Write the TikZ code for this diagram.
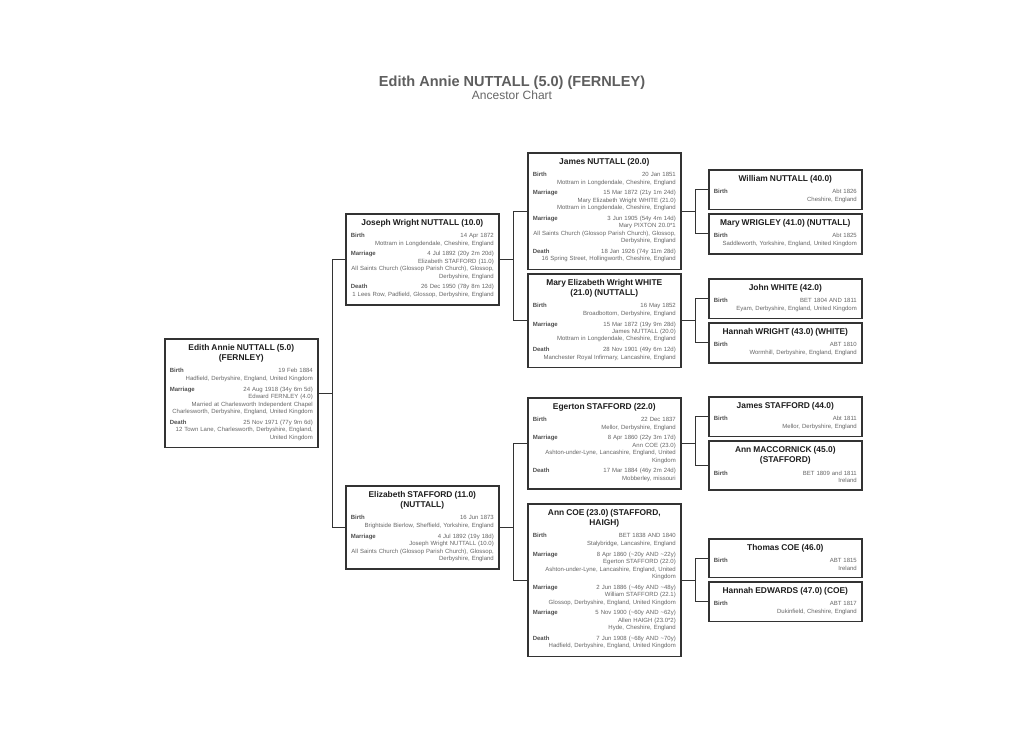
\documentclass[tikz,border=0pt]{standalone}
\usepackage{fontspec}
\setmainfont{Liberation Sans}
\usetikzlibrary{positioning}

\definecolor{boxline}{HTML}{333333}
\definecolor{namecol}{HTML}{1E1E1E}
\definecolor{lblcol}{HTML}{505050}
\definecolor{valcol}{HTML}{666666}
\definecolor{headcol}{HTML}{5E5E5E}

\newcommand{\who}[1]{{\centering\color{namecol}\fontsize{6.3}{7.75}\selectfont\bfseries #1\par}\vspace{1.3pt}}
\newcommand{\evt}[2]{\par\vspace{2.4pt}\hbox to\linewidth{{\color{lblcol}\bfseries #1}\hfill #2}}
\newcommand{\cont}[1]{\hbox to\linewidth{\hfill #1}}

\tikzset{
  person/.style={draw=boxline, line width=1.2pt, fill=white, text=valcol,
    text width=107.25pt, inner xsep=3.75pt, inner ysep=4pt,
    font=\fontsize{4.5}{5.6}\selectfont, anchor=north west,
    execute at end node={\par\kern1.5pt}},
  link/.style={draw=boxline, line width=0.75pt},
  fork/.style={to path={-- ++(14,0) |- (\tikztotarget)}},
}

\begin{document}
\begin{tikzpicture}[x=0.75pt,y=-0.75pt]
  \fill[white] (0,0) rectangle (1024,731);
  \useasboundingbox (0,0) rectangle (1024,731);
  \node [font=\fontsize{10.9}{13}\selectfont\bfseries, text=headcol, anchor=base] (chart) at (512,86.5) {Edith Annie NUTTALL (5.0) (FERNLEY)};
  \node [font=\fontsize{9}{11}\selectfont, text=valcol, anchor=base] (sub) at (512,100) {Ancestor Chart};

  \node [person] (p_5) at (164,338) {\who{Edith Annie NUTTALL (5.0)\\(FERNLEY)}
    \evt{Birth}{19 Feb 1884}\cont{Hadfield, Derbyshire, England, United Kingdom}
    \evt{Marriage}{24 Aug 1918 (34y 6m 5d)}\cont{Edward FERNLEY (4.0)}\cont{Married at Charlesworth Independent Chapel}\cont{Charlesworth, Derbyshire, England, United Kingdom}
    \evt{Death}{25 Nov 1971 (77y 9m 6d)}\cont{12 Town Lane, Charlesworth, Derbyshire, England,}\cont{United Kingdom}};

  \node [person] (p_10) at (345,213) {\who{Joseph Wright NUTTALL (10.0)}
    \evt{Birth}{14 Apr 1872}\cont{Mottram in Longdendale, Cheshire, England}
    \evt{Marriage}{4 Jul 1892 (20y 2m 20d)}\cont{Elizabeth STAFFORD (11.0)}\cont{All Saints Church (Glossop Parish Church), Glossop,}\cont{Derbyshire, England}
    \evt{Death}{26 Dec 1950 (78y 8m 12d)}\cont{1 Lees Row, Padfield, Glossop, Derbyshire, England}};
  \node [person] (p_11) at (345,485) {\who{Elizabeth STAFFORD (11.0)\\(NUTTALL)}
    \evt{Birth}{16 Jun 1873}\cont{Brightside Bierlow, Sheffield, Yorkshire, England}
    \evt{Marriage}{4 Jul 1892 (19y 18d)}\cont{Joseph Wright NUTTALL (10.0)}\cont{All Saints Church (Glossop Parish Church), Glossop,}\cont{Derbyshire, England}};

  \node [person] (p_20) at (527,152) {\who{James NUTTALL (20.0)}
    \evt{Birth}{20 Jan 1851}\cont{Mottram in Longdendale, Cheshire, England}
    \evt{Marriage}{15 Mar 1872 (21y 1m 24d)}\cont{Mary Elizabeth Wright WHITE (21.0)}\cont{Mottram in Longdendale, Cheshire, England}
    \evt{Marriage}{3 Jun 1905 (54y 4m 14d)}\cont{Mary PIXTON 20.0*1}\cont{All Saints Church (Glossop Parish Church), Glossop,}\cont{Derbyshire, England}
    \evt{Death}{18 Jan 1926 (74y 11m 28d)}\cont{16 Spring Street, Hollingworth, Cheshire, England}};
  \node [person, below=2pt of p_20] (p_21) {\who{Mary Elizabeth Wright WHITE\\(21.0) (NUTTALL)}
    \evt{Birth}{16 May 1852}\cont{Broadbottom, Derbyshire, England}
    \evt{Marriage}{15 Mar 1872 (19y 9m 28d)}\cont{James NUTTALL (20.0)}\cont{Mottram in Longdendale, Cheshire, England}
    \evt{Death}{28 Nov 1901 (49y 6m 12d)}\cont{Manchester Royal Infirmary, Lancashire, England}};
  \node [person] (p_22) at (527,397) {\who{Egerton STAFFORD (22.0)}
    \evt{Birth}{22 Dec 1837}\cont{Mellor, Derbyshire, England}
    \evt{Marriage}{8 Apr 1860 (22y 3m 17d)}\cont{Ann COE (23.0)}\cont{Ashton-under-Lyne, Lancashire, England, United}\cont{Kingdom}
    \evt{Death}{17 Mar 1884 (46y 2m 24d)}\cont{Mobberley, missouri}};
  \node [person] (p_23) at (527,503) {\who{Ann COE (23.0) (STAFFORD,\\HAIGH)}
    \evt{Birth}{BET 1838 AND 1840}\cont{Stalybridge, Lancashire, England}
    \evt{Marriage}{8 Apr 1860 (\textasciitilde20y AND \textasciitilde22y)}\cont{Egerton STAFFORD (22.0)}\cont{Ashton-under-Lyne, Lancashire, England, United}\cont{Kingdom}
    \evt{Marriage}{2 Jun 1886 (\textasciitilde46y AND \textasciitilde48y)}\cont{William STAFFORD (22.1)}\cont{Glossop, Derbyshire, England, United Kingdom}
    \evt{Marriage}{5 Nov 1900 (\textasciitilde60y AND \textasciitilde62y)}\cont{Allen HAIGH (23.0*2)}\cont{Hyde, Cheshire, England}
    \evt{Death}{7 Jun 1908 (\textasciitilde68y AND \textasciitilde70y)}\cont{Hadfield, Derbyshire, England, United Kingdom}};

  \node [person] (p_40) at (708,169) {\who{William NUTTALL (40.0)}
    \evt{Birth}{Abt 1826}\cont{Cheshire, England}};
  \node [person, below=2pt of p_40] (p_41) {\who{Mary WRIGLEY (41.0) (NUTTALL)}
    \evt{Birth}{Abt 1825}\cont{Saddleworth, Yorkshire, England, United Kingdom}};
  \node [person] (p_42) at (708,278) {\who{John WHITE (42.0)}
    \evt{Birth}{BET 1804 AND 1811}\cont{Eyam, Derbyshire, England, United Kingdom}};
  \node [person, below=2pt of p_42] (p_43) {\who{Hannah WRIGHT (43.0) (WHITE)}
    \evt{Birth}{ABT 1810}\cont{Wormhill, Derbyshire, England, England}};
  \node [person] (p_44) at (708,396) {\who{James STAFFORD (44.0)}
    \evt{Birth}{Abt 1811}\cont{Mellor, Derbyshire, England}};
  \node [person, below=2pt of p_44] (p_45) {\who{Ann MACCORNICK (45.0)\\(STAFFORD)}
    \evt{Birth}{BET 1809 and 1811}\cont{Ireland}};
  \node [person] (p_46) at (708,538) {\who{Thomas COE (46.0)}
    \evt{Birth}{ABT 1815}\cont{Ireland}};
  \node [person, below=2pt of p_46] (p_47) {\who{Hannah EDWARDS (47.0) (COE)}
    \evt{Birth}{ABT 1817}\cont{Dukinfield, Cheshire, England}};

  \path[link]
    (p_5.east) edge [fork] (p_10.west)
    (p_5.east) edge [fork] (p_11.west)
    (p_10.east) edge [fork] (p_20.west)
    (p_10.east) edge [fork] (p_21.west)
    (p_11.east) edge [fork] (p_22.west)
    (p_11.east) edge [fork] (p_23.west)
    (p_20.east) edge [fork] (p_40.west)
    (p_20.east) edge [fork] (p_41.west)
    (p_21.east) edge [fork] (p_42.west)
    (p_21.east) edge [fork] (p_43.west)
    (p_22.east) edge [fork] (p_44.west)
    (p_22.east) edge [fork] (p_45.west)
    (p_23.east) edge [fork] (p_46.west)
    (p_23.east) edge [fork] (p_47.west)
    ;
\end{tikzpicture}
\end{document}
